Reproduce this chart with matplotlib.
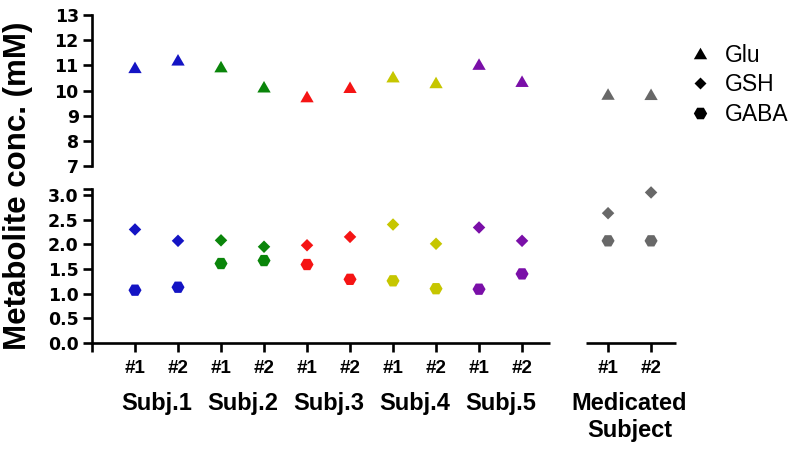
import matplotlib
matplotlib.use('Agg')
import matplotlib.pyplot as plt
import matplotlib.transforms as mtransforms
from matplotlib.lines import Line2D

# ---------------- data ----------------
x_pos = [1, 2, 3, 4, 5, 6, 7, 8, 9, 10, 12, 13]
session_labels = ['#1', '#2', '#1', '#2', '#1', '#2', '#1', '#2', '#1', '#2', '#1', '#2']
group_labels = ['Subj.1', 'Subj.2', 'Subj.3', 'Subj.4', 'Subj.5', 'Medicated\nSubject']
point_colors = ['#1414c4', '#1414c4', '#0a850a', '#0a850a', '#f51414', '#f51414',
                '#c6c600', '#c6c600', '#7a0fa8', '#7a0fa8', '#686868', '#686868']
glu = [10.92, 11.22, 10.95, 10.15, 9.76, 10.13, 10.55, 10.32, 11.05, 10.37, 9.86, 9.85]
gsh = [2.30, 2.07, 2.08, 1.95, 1.98, 2.15, 2.40, 2.01, 2.34, 2.07, 2.63, 3.05]
gaba = [1.07, 1.13, 1.61, 1.67, 1.59, 1.29, 1.26, 1.10, 1.09, 1.40, 2.07, 2.07]
series_names = ['Glu', 'GSH', 'GABA']

# ---------------- style ----------------
W, H = 800, 451
fig = plt.figure(figsize=(W / 100, H / 100), dpi=100)
LW = 1.9
BOLD = dict(family='Liberation Sans', weight='bold')

tri = [(0, 0.866), (-1, -0.866), (1, -0.866)]
dia = [(0, 1), (1, 0), (0, -1), (-1, 0)]
hexa = [(1, 0), (0.5, 0.866), (-0.5, 0.866), (-1, 0), (-0.5, -0.866), (0.5, -0.866)]

xlim = (0, 13.58)

def fx(px):
    return px / W

def fy(py):
    return 1 - py / H

ax_top = fig.add_axes([fx(92), fy(166), fx(676) - fx(92), fy(15) - fy(166)])
ax_bot = fig.add_axes([fx(92), fy(343), fx(676) - fx(92), fy(189) - fy(343)])

for ax in (ax_top, ax_bot):
    ax.set_xlim(*xlim)
    ax.patch.set_alpha(0)
    for s in ('top', 'right', 'bottom'):
        ax.spines[s].set_visible(False)
    ax.spines['left'].set_linewidth(LW)
    ax.tick_params(axis='y', direction='out', length=6.5, width=LW, pad=3,
                   labelsize=12.5)

# top axes
ax_top.set_ylim(7, 13)
ax_top.set_yticks(range(7, 14))
ax_top.set_xticks([])
ax_top.scatter(x_pos, glu, c=point_colors, marker=tri, s=9.6 ** 2, linewidths=0,
               clip_on=False, zorder=3)

# bottom axes
ax_bot.set_ylim(0, 3.12)
yt = [0, 0.5, 1.0, 1.5, 2.0, 2.5, 3.0]
ax_bot.set_yticks(yt + [3.12])
ax_bot.set_yticklabels([f'{v:.1f}' for v in yt] + [''])
ax_bot.scatter(x_pos, gsh, c=point_colors, marker=dia, s=9.0 ** 2, linewidths=0,
               clip_on=False, zorder=3)
ax_bot.scatter(x_pos, gaba, c=point_colors, marker=hexa, s=9.4 ** 2, linewidths=0,
               clip_on=False, zorder=3)

for ax in (ax_top, ax_bot):
    for lab in ax.get_yticklabels():
        lab.set_family('DejaVu Sans')
        lab.set_weight('bold')

# x axis: two segments
trans = mtransforms.blended_transform_factory(ax_bot.transData, ax_bot.transAxes)
ax_bot.plot([0, 10.65], [0, 0], color='black', lw=LW, transform=trans,
            clip_on=False, solid_capstyle='butt', zorder=4)
ax_bot.plot([11.48, 13.58], [0, 0], color='black', lw=LW, transform=trans,
            clip_on=False, solid_capstyle='butt', zorder=4)
ax_bot.set_xticks([0] + x_pos)
ax_bot.set_xticklabels([''] + session_labels)
ax_bot.tick_params(axis='x', direction='out', length=6.5, width=LW, pad=6,
                   labelsize=13.5)
for lab in ax_bot.get_xticklabels():
    lab.set_family('Liberation Sans')
    lab.set_weight('bold')

# group labels
gtrans = mtransforms.blended_transform_factory(ax_bot.transData, fig.transFigure)
for i, g in enumerate(group_labels):
    xm = (x_pos[2 * i] + x_pos[2 * i + 1]) / 2
    ax_bot.text(xm, fy(392), g, transform=gtrans, ha='center', va='top',
                fontsize=17, linespacing=1.22, **BOLD)

# y label
fig.text(fx(18), fy(186), 'Metabolite conc. (mM)', rotation=90, ha='center',
         va='center', fontsize=22.5, **BOLD)

# legend
markers = [tri, dia, hexa]
msizes = [9.6, 8.6, 9.6]
handles = [Line2D([], [], ls='none', marker=m, color='black', markersize=ms,
                  markeredgewidth=0) for m, ms in zip(markers, msizes)]
fig.legend(handles, series_names, loc='upper left',
           bbox_to_anchor=(fx(689.0), fy(43.5)), frameon=False,
           prop=dict(family='Liberation Sans', size=16.5), handlelength=0.95,
           handletextpad=0.62, labelspacing=0.3, borderpad=0, borderaxespad=0)

fig.savefig('out.png', dpi=100)
